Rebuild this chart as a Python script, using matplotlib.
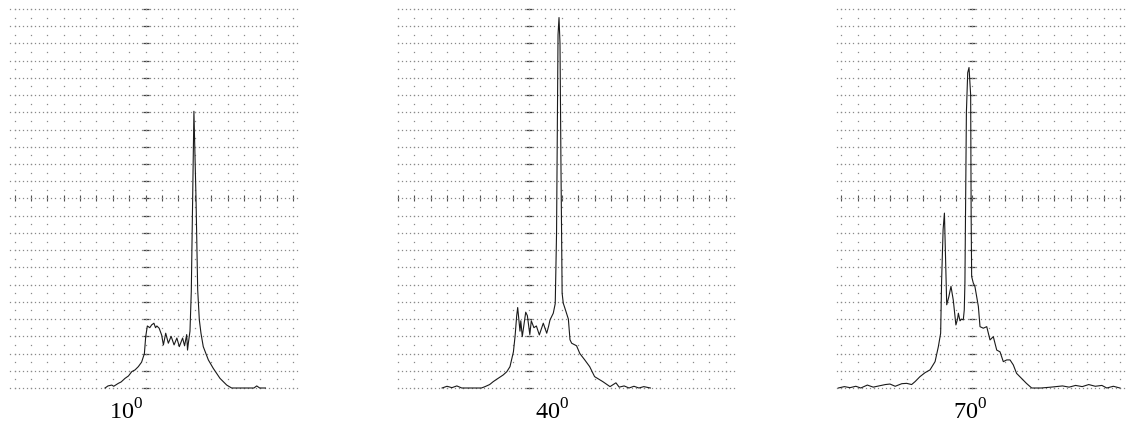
import numpy as np
import matplotlib.pyplot as plt

plt.rcParams['mathtext.fontset'] = 'custom'
plt.rcParams['mathtext.rm'] = 'Liberation Serif'
plt.rcParams['font.family'] = 'Liberation Serif'

# --- data (x in graticule divisions from the centre line, y in divisions above baseline)
x10 = [-2.48, -2.3, -2.07, -1.95, -1.67, -1.5, -1.26, -1.05, -0.85, -0.65, -0.45, -0.25,
       -0.08, 0.0, 0.1, 0.25, 0.36, 0.5, 0.6, 0.68, 0.82, 0.97, 1.08, 1.22, 1.38, 1.55,
       1.73, 1.9, 2.05, 2.25, 2.37, 2.5, 2.55, 2.6, 2.7, 2.78, 2.86, 2.94, 3.07, 3.17,
       3.27, 3.37, 3.51, 3.82, 4.12, 4.53, 4.94, 5.24, 5.65, 6.2, 6.6, 6.77, 6.95, 7.3]
y10 = [0.0, 0.12, 0.17, 0.1, 0.27, 0.35, 0.56, 0.7, 0.95, 1.05, 1.24, 1.5,
       2.0, 2.98, 3.6, 3.5, 3.66, 3.76, 3.5, 3.6, 3.47, 3.08, 2.5, 3.18, 2.6, 3.0,
       2.5, 2.9, 2.4, 2.9, 2.45, 3.1, 2.2, 2.6, 3.3, 5.6, 10.8, 16.06, 10.9, 5.7,
       3.95, 3.18, 2.4, 1.63, 1.14, 0.56, 0.17, 0.0, 0.0, 0.0, 0.0, 0.12, 0.0, 0.0]

x40 = [-5.3, -5.0, -4.7, -4.4, -4.1, -3.5, -2.9, -2.68, -2.4, -2.18, -1.9, -1.57, -1.35,
       -1.16, -0.95, -0.85, -0.75, -0.69, -0.55, -0.5, -0.41, -0.2, -0.1, 0.05, 0.14,
       0.3, 0.45, 0.63, 0.87, 1.08, 1.2, 1.28, 1.48, 1.6, 1.68, 1.77, 1.83, 1.89, 1.95,
       2.02, 2.09, 2.2, 2.4, 2.5, 2.6, 2.9, 3.1, 3.4, 3.7, 4.0, 4.5, 4.94, 5.3, 5.5,
       5.8, 6.1, 6.4, 6.7, 7.0, 7.4]
y40 = [0.0, 0.1, 0.02, 0.12, 0.0, 0.0, 0.0, 0.08, 0.2, 0.37, 0.55, 0.76, 0.95,
       1.24, 2.1, 3.0, 4.2, 4.67, 3.3, 3.9, 2.98, 4.4, 4.2, 3.1, 3.9,
       3.5, 3.6, 3.08, 3.76, 3.18, 3.6, 3.95, 4.34, 4.9, 9.0, 20.5, 21.5, 20.0, 12.8,
       5.5, 4.92, 4.6, 4.0, 2.8, 2.6, 2.45, 2.0, 1.63, 1.24, 0.66, 0.37, 0.08, 0.3, 0.05,
       0.12, 0.0, 0.1, 0.0, 0.08, 0.0]

x70 = [-8.17, -7.8, -7.46, -7.1, -6.8, -6.4, -6.04, -5.7, -5.3, -5.02, -4.7, -4.3, -4.0,
       -3.7, -3.49, -3.19, -2.88, -2.58, -2.27, -2.07, -1.93, -1.87, -1.78, -1.7, -1.63,
       -1.56, -1.43, -1.3, -1.16, -1.0, -0.9, -0.85, -0.75, -0.65, -0.55, -0.49, -0.45,
       -0.36, -0.28, -0.2, -0.1, -0.07, -0.04, 0.06, 0.16, 0.37, 0.47, 0.67, 0.88, 1.08,
       1.28, 1.49, 1.69, 1.89, 2.1, 2.3, 2.5, 2.7, 3.0, 3.3, 3.62, 4.2, 4.8, 5.5, 5.9,
       6.3, 6.7, 7.1, 7.5, 7.9, 8.2, 8.6, 9.0]
y70 = [0.0, 0.08, 0.02, 0.1, 0.0, 0.17, 0.05, 0.12, 0.2, 0.23, 0.1, 0.25, 0.27,
       0.2, 0.37, 0.66, 0.89, 1.05, 1.53, 2.4, 3.18, 6.28, 9.2, 10.15, 7.5,
       4.83, 5.3, 5.9, 5.1, 3.66, 4.0, 4.34, 3.9, 4.0, 3.95, 4.53, 6.1,
       16.0, 18.3, 18.6, 17.0, 10.0, 6.47, 6.09, 5.89, 4.73, 3.56, 3.47, 3.56, 2.79,
       2.98, 2.2, 2.1, 1.53, 1.63, 1.63, 1.34, 0.85, 0.56, 0.27, 0.0, 0.0, 0.05, 0.12, 0.05,
       0.15, 0.08, 0.2, 0.1, 0.15, 0.0, 0.1, 0.0]

labels = [r'$\mathrm{10}^{\mathrm{0}}$', r'$\mathrm{40}^{\mathrm{0}}$', r'$\mathrm{70}^{\mathrm{0}}$']
series = [(x10, y10), (x40, y40), (x70, y70)]

# --- layout (pixels)
W, H = 1127, 423
DX, DY = 16.4, 17.23
BASE = 388.0
NROWS = 22
centers_px = [145.7, 529.0, 972.3]
xlims = [(-8.35, 9.45), (-8.1, 12.6), (-8.3, 9.45)]
label_px = [126, 552, 970]
YPAD = 0.5

fig = plt.figure(figsize=(W / 100, H / 100), dpi=100)
fig.patch.set_facecolor('white')

GRID = '#8a8a8a'


def draw_graticule(ax, xl, xr):
    rows = np.arange(0, NROWS + 1)
    row_x = np.arange(np.ceil(xl * 4) / 4, xr, 0.25)
    for r in rows:
        if r == NROWS // 2:
            continue
        ax.plot(row_x, np.full_like(row_x, r), ls='none', marker='s', ms=0.9,
                mew=0, color=GRID)
    cols = np.arange(np.ceil(xl), np.floor(xr) + 1)
    col_y = np.arange(0, NROWS + 0.01, 0.5)
    for c in cols:
        if c == 0:
            continue
        ax.plot(np.full_like(col_y, c), col_y, ls='none', marker='s', ms=0.9,
                mew=0, color=GRID)
    # centre horizontal line: ticks at the divisions, dots between
    mid = NROWS // 2
    ax.plot(cols, np.full_like(cols, mid), ls='none', marker='|', ms=4.5,
            mew=0.8, color='#505050')
    ax.plot(row_x, np.full_like(row_x, mid), ls='none', marker='s', ms=0.9,
            mew=0, color=GRID)
    # centre vertical line: dashes at each row, dots between
    ax.plot(np.zeros(len(rows)), rows, ls='none', marker='_', ms=4.5,
            mew=0.9, color='#404040')
    ax.plot(np.zeros(len(col_y)), col_y, ls='none', marker='s', ms=0.9,
            mew=0, color=GRID)


for (xs, ys), cpx, (xl, xr), lab, lpx in zip(series, centers_px, xlims, labels, label_px):
    left = (cpx + xl * DX) / W
    width = (xr - xl) * DX / W
    bottom = (H - (BASE + YPAD * DY)) / H
    height = (NROWS + 2 * YPAD) * DY / H
    ax = fig.add_axes([left, bottom, width, height])
    ax.set_xlim(xl, xr)
    ax.set_ylim(-YPAD, NROWS + YPAD)
    ax.axis('off')
    draw_graticule(ax, xl, xr)
    ax.plot(xs, ys, color='#1a1a1a', lw=0.8, zorder=5)
    fig.text(lpx / W, (H - 419.5) / H, lab, ha='center', va='baseline',
             fontsize=17.5)

fig.savefig('out.png', dpi=100, facecolor='white')
